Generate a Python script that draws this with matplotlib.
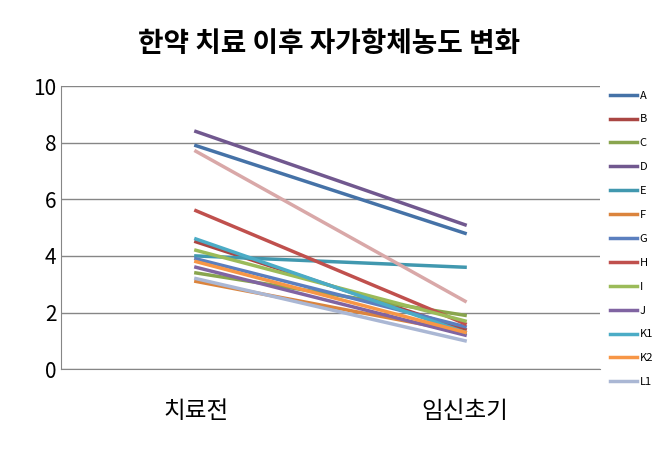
import matplotlib
matplotlib.use("Agg")
import matplotlib.pyplot as plt

plt.rcParams['font.family'] = ['Noto Sans CJK KR', 'DejaVu Sans']

categories = ['치료전', '임신초기']
names = ['A', 'B', 'C', 'D', 'E', 'F', 'G', 'H', 'I', 'J', 'K1', 'K2', 'L1', 'L2']
before = [7.9, 4.5, 3.4, 8.4, 4.0, 3.1, 3.9, 5.6, 4.2, 3.6, 4.6, 3.8, 3.2, 7.7]
after = [4.8, 1.4, 1.9, 5.1, 3.6, 1.3, 1.5, 1.6, 1.7, 1.2, 1.3, 1.3, 1.0, 2.4]
colors = ['#4572A7', '#AA4643', '#89A54E', '#71588F', '#4198AF', '#DB843D',
          '#5B7FBF', '#C0504D', '#9BBB59', '#8064A2', '#4BACC6', '#F79646',
          '#AAB7D4', '#D9A8A8']

fig = plt.figure(figsize=(6.59, 4.49), dpi=100)
ax = fig.add_axes([0.093, 0.178, 0.817, 0.63])
for n, b, a, c in zip(names, before, after, colors):
    ax.plot([0, 1], [b, a], color=c, lw=2.5,
            label=n if n != 'L2' else '_nolegend_')
ax.set_xlim(-0.5, 1.5)
ax.set_ylim(0, 10)
ax.set_yticks(range(0, 11, 2))
ax.set_xticks([0, 1])
ax.set_xticklabels(categories, fontsize=17)
ax.tick_params(axis='y', labelsize=15, length=0)
ax.tick_params(axis='x', length=0, pad=22)
ax.grid(axis='y', color='#868686', lw=1)
for s in ['top', 'right']:
    ax.spines[s].set_visible(False)
for s in ['left', 'bottom']:
    ax.spines[s].set_color('#868686')
ax.set_axisbelow(True)
fig.text(0.5, 0.885, '한약 치료 이후 자가항체농도 변화', ha='center',
         fontsize=20, fontweight='bold')
ax.legend(loc='upper left', bbox_to_anchor=(1.0, 1.02), frameon=False,
          fontsize=8, handlelength=2.5, labelspacing=1.25, handletextpad=0.2)
fig.savefig('out.png', dpi=100)
